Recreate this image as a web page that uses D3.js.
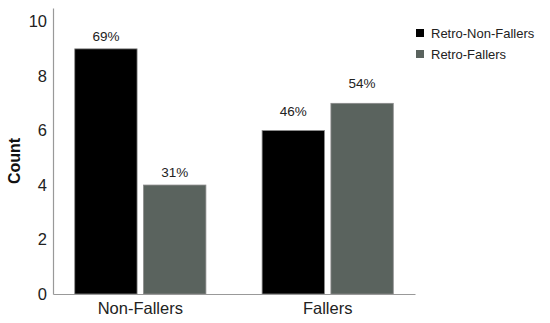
<!DOCTYPE html>
<html>
<head>
<meta charset="utf-8">
<script src="https://cdn.jsdelivr.net/npm/d3@7"></script>
<style>
  body { margin: 0; background: #fff; }
  text { font-family: "Liberation Sans", Arial, sans-serif; }
</style>
</head>
<body>
<script>
var categories = ["Non-Fallers", "Fallers"];
var seriesNames = ["Retro-Non-Fallers", "Retro-Fallers"];
var counts = [[9, 4], [6, 7]];
var percents = [["69%", "31%"], ["46%", "54%"]];
var yTicks = [0, 2, 4, 6, 8, 10];
var colors = ["#000000", "#5a635e"];

var width = 550;
var height = 323;
var plotLeft = 53, plotRight = 415, plotTop = 8, plotBottom = 294;
var labelGap = [8, 15]; // gap above bars, per group (Fallers labels sit higher)

var svg = d3.select("body")
    .append("svg")
    .attr("width", width)
    .attr("height", height);

var x = d3.scaleBand()
    .domain(categories)
    .range([plotLeft, plotRight])
    .paddingInner(0.3)
    .paddingOuter(0.116);

var xs = d3.scaleBand()
    .domain(d3.range(seriesNames.length))
    .range([0, x.bandwidth()])
    .paddingInner(0.094);

var y = d3.scaleLinear()
    .domain([0, 10.5])
    .range([plotBottom, plotTop]);

// bars
var groups = svg.selectAll("g.grp")
    .data(categories)
    .enter().append("g")
    .attr("class", "grp")
    .attr("transform", function(d) { return "translate(" + x(d) + ",0)"; });

function rows(d, i) {
    return counts[i].map(function(v, j) { return {v: v, i: i, j: j, p: percents[i][j]}; });
}

groups.selectAll("rect")
    .data(rows)
    .enter().append("rect")
    .attr("x", function(d) { return xs(d.j); })
    .attr("y", function(d) { return y(d.v); })
    .attr("width", xs.bandwidth())
    .attr("height", function(d) { return y(0) - y(d.v); })
    .attr("fill", function(d) { return colors[d.j]; })
    .attr("stroke", "#8a8a8a")
    .attr("stroke-width", 0.8);

groups.selectAll("text")
    .data(rows)
    .enter().append("text")
    .attr("x", function(d) { return xs(d.j) + xs.bandwidth() / 2; })
    .attr("y", function(d) { return y(d.v) - labelGap[d.i]; })
    .attr("text-anchor", "middle")
    .attr("font-size", 13.5)
    .attr("fill", "#222")
    .text(function(d) { return d.p; });

// axes
var yAxis = svg.append("g")
    .attr("transform", "translate(" + plotLeft + ",0)")
    .call(d3.axisLeft(y).tickValues(yTicks).tickSize(0).tickPadding(6));
yAxis.select(".domain").attr("stroke", "#999").attr("stroke-width", 1.2);
yAxis.selectAll("text").attr("font-size", 16.5).attr("fill", "#222")
    .attr("font-family", "Liberation Sans, Arial, sans-serif");

var xAxis = svg.append("g")
    .attr("transform", "translate(0," + plotBottom + ")")
    .call(d3.axisBottom(x).tickSize(0).tickPadding(8));
xAxis.select(".domain").attr("stroke", "#999").attr("stroke-width", 1.2);
xAxis.selectAll("text").attr("font-size", 16.5).attr("fill", "#222")
    .attr("font-family", "Liberation Sans, Arial, sans-serif");

svg.append("text")
    .attr("transform", "translate(20," + ((plotTop + plotBottom) / 2 + 10) + ") rotate(-90)")
    .attr("text-anchor", "middle")
    .attr("font-size", 16)
    .attr("font-weight", "bold")
    .attr("fill", "#111")
    .text("Count");

// legend
var legend = svg.selectAll("g.leg")
    .data(seriesNames)
    .enter().append("g")
    .attr("class", "leg")
    .attr("transform", function(d, i) { return "translate(416," + (29 + i * 21) + ")"; });

legend.append("rect")
    .attr("width", 8)
    .attr("height", 8)
    .attr("fill", function(d, i) { return colors[i]; });

legend.append("text")
    .attr("x", 15)
    .attr("y", 8.5)
    .attr("font-size", 13)
    .attr("fill", "#222")
    .text(function(d) { return d; });
</script>
</body>
</html>
